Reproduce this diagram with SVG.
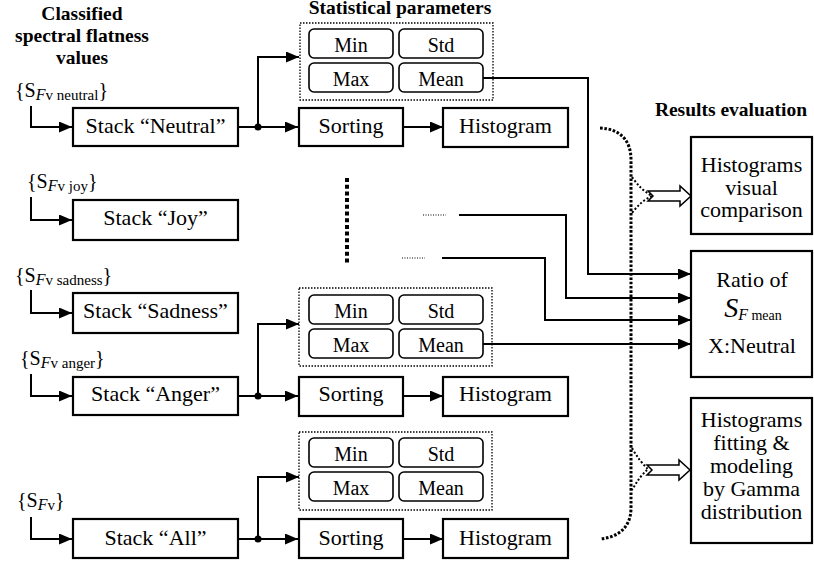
<svg xmlns="http://www.w3.org/2000/svg" width="814" height="564" viewBox="0 0 814 564" font-family="'Liberation Serif', Tinos, 'Times New Roman', Times, serif">
<defs>
<marker id="ah" markerWidth="13" markerHeight="11" refX="13" refY="5.5" orient="auto" markerUnits="userSpaceOnUse"><path d="M0,0 L13,5.5 L0,11 z" fill="#000"/></marker>
<style>
text{font-family:'Liberation Serif',Tinos,'Times New Roman',Times,serif;fill:#000}
.t{font-size:22px;text-anchor:middle}
.s{font-size:20px;text-anchor:middle}
.h{font-size:19.5px;font-weight:bold;text-anchor:middle}
.lbl{font-size:20px}
.sub{font-size:15px}
.subF{font-size:16px;font-style:italic}
.box{fill:#fff;stroke:#000;stroke-width:2.2}
.rb{fill:#fff;stroke:#000;stroke-width:1.6}
.grp{fill:none;stroke:#000;stroke-width:1.3;stroke-dasharray:1.5 1.5}
.ln{fill:none;stroke:#000;stroke-width:2}
.ar{marker-end:url(#ah)}
.dot{fill:#000}
.brace{fill:none;stroke:#000;stroke-width:3;stroke-dasharray:2.6 1.7}
.br2{fill:none;stroke:#000;stroke-width:2;stroke-dasharray:2 2}
.hol{fill:#fff;stroke:#000;stroke-width:1.5}
</style>
</defs>
<rect width="814" height="564" fill="#fff"/>

<g id="titles">
<text class="h" x="82" y="19.5">Classified</text>
<text class="h" x="82" y="41.5">spectral flatness</text>
<text class="h" x="82" y="64">values</text>
<text class="h" x="400" y="14">Statistical parameters</text>
<text class="h" x="731" y="116">Results evaluation</text>
</g>

<g id="labels">
<text class="lbl" x="15" y="97">{S<tspan class="subF" dy="3">F</tspan><tspan class="sub">v neutral</tspan><tspan dy="-3">}</tspan></text>
<text class="lbl" x="27" y="188">{S<tspan class="subF" dy="3">F</tspan><tspan class="sub">v joy</tspan><tspan dy="-3">}</tspan></text>
<text class="lbl" x="15" y="282">{S<tspan class="subF" dy="3">F</tspan><tspan class="sub">v sadness</tspan><tspan dy="-3">}</tspan></text>
<text class="lbl" x="20" y="365">{S<tspan class="subF" dy="3">F</tspan><tspan class="sub">v anger</tspan><tspan dy="-3">}</tspan></text>
<text class="lbl" x="17" y="507">{S<tspan class="subF" dy="3">F</tspan><tspan class="sub">v</tspan><tspan dy="-3">}</tspan></text>
</g>

<g id="connectors">
<path class="ln ar" d="M31,106 V127 H72"/>
<path class="ln ar" d="M238,127 H298"/>
<path class="ln ar" d="M258,127 V57 H299"/>
<path class="ln ar" d="M403,127 H443"/>
<path class="ln ar" d="M31,197 V220 H72"/>
<path class="ln ar" d="M31,290 V313 H72"/>
<path class="ln ar" d="M31,374 V396 H72"/>
<path class="ln ar" d="M238,396 H298"/>
<path class="ln ar" d="M258,396 V324 H299"/>
<path class="ln ar" d="M403,396 H443"/>
<path class="ln ar" d="M31,517 V539 H72"/>
<path class="ln ar" d="M238,539 H298"/>
<path class="ln ar" d="M258,539 V477 H299"/>
<path class="ln ar" d="M403,539 H443"/>
<circle class="dot" cx="258" cy="127" r="3.5"/>
<circle class="dot" cx="258" cy="396" r="3.5"/>
<circle class="dot" cx="258" cy="539" r="3.5"/>
<path class="ln ar" d="M482,78 H588 V274 H691"/>
<path class="ln ar" d="M459,215 H566 V298 H691"/>
<path class="ln ar" d="M442,258 H545 V320 H691"/>
<path class="ln ar" d="M482,344 H691"/>
<line x1="347" y1="178" x2="347" y2="265" stroke="#000" stroke-width="4" stroke-dasharray="4 2.7"/>
<line x1="423" y1="215" x2="446" y2="215" stroke="#000" stroke-width="1" stroke-dasharray="1 1.5"/>
<line x1="402" y1="258" x2="425" y2="258" stroke="#000" stroke-width="1" stroke-dasharray="1 1.5"/>
<path class="brace" d="M600,128 C620,129 631,140 631,160 V508 C631,526 620,537 600,539"/>
<path class="br2" d="M632,177 Q641,190 652,196 Q641,201 632,213"/>
<path class="br2" d="M632,448 Q640,462 648,469 Q640,476 632,490"/>
<polygon class="hol" points="648,191 680,191 680,186 691,196 680,206 680,201 648,201 653,196"/>
<polygon class="hol" points="647,465 679,465 679,460 690,470 679,480 679,475 647,475 652,470"/>
</g>

<g id="stack-neutral"><rect class="box" x="73" y="108" width="165" height="38"/><text class="t" x="155.5" y="133">Stack “Neutral”</text></g>
<g id="stack-joy"><rect class="box" x="73" y="200" width="165" height="40"/><text class="t" x="155.5" y="225">Stack “Joy”</text></g>
<g id="stack-sadness"><rect class="box" x="73" y="293" width="165" height="40"/><text class="t" x="155.5" y="318">Stack “Sadness”</text></g>
<g id="stack-anger"><rect class="box" x="73" y="377" width="165" height="38"/><text class="t" x="155.5" y="401">Stack “Anger”</text></g>
<g id="stack-all"><rect class="box" x="73" y="519" width="165" height="39"/><text class="t" x="155.5" y="545">Stack “All”</text></g>

<g id="sorting-1"><rect class="box" x="299" y="108" width="104" height="38"/><text class="t" x="351" y="133">Sorting</text></g>
<g id="histogram-1"><rect class="box" x="443" y="108" width="125" height="39"/><text class="t" x="505.5" y="133">Histogram</text></g>
<g id="sorting-2"><rect class="box" x="299" y="377" width="104" height="39"/><text class="t" x="351" y="401">Sorting</text></g>
<g id="histogram-2"><rect class="box" x="443" y="377" width="125" height="39"/><text class="t" x="505.5" y="401">Histogram</text></g>
<g id="sorting-3"><rect class="box" x="299" y="519" width="104" height="39"/><text class="t" x="351" y="545">Sorting</text></g>
<g id="histogram-3"><rect class="box" x="443" y="519" width="125" height="39"/><text class="t" x="505.5" y="545">Histogram</text></g>

<g id="stats-1">
<rect class="grp" x="300" y="23" width="193" height="77"/>
<rect class="rb" x="309" y="29" width="84" height="29" rx="5"/><text class="s" x="351" y="52">Min</text>
<rect class="rb" x="399" y="29" width="84" height="29" rx="5"/><text class="s" x="441" y="52">Std</text>
<rect class="rb" x="309" y="63" width="84" height="29" rx="5"/><text class="s" x="351" y="86">Max</text>
<rect class="rb" x="399" y="63" width="84" height="29" rx="5"/><text class="s" x="441" y="86">Mean</text>
</g>
<g id="stats-2">
<rect class="grp" x="299" y="288" width="193" height="78"/>
<rect class="rb" x="309" y="295" width="84" height="29" rx="5"/><text class="s" x="351" y="318">Min</text>
<rect class="rb" x="399" y="295" width="84" height="29" rx="5"/><text class="s" x="441" y="318">Std</text>
<rect class="rb" x="309" y="329" width="84" height="29" rx="5"/><text class="s" x="351" y="352">Max</text>
<rect class="rb" x="399" y="329" width="84" height="29" rx="5"/><text class="s" x="441" y="352">Mean</text>
</g>
<g id="stats-3">
<rect class="grp" x="299" y="432" width="193" height="78"/>
<rect class="rb" x="309" y="438" width="84" height="29" rx="5"/><text class="s" x="351" y="461">Min</text>
<rect class="rb" x="399" y="438" width="84" height="29" rx="5"/><text class="s" x="441" y="461">Std</text>
<rect class="rb" x="309" y="472" width="84" height="29" rx="5"/><text class="s" x="351" y="495">Max</text>
<rect class="rb" x="399" y="472" width="84" height="29" rx="5"/><text class="s" x="441" y="495">Mean</text>
</g>

<g id="visual-comparison">
<rect class="box" x="691" y="137" width="121" height="97"/>
<text class="t" x="751.5" y="172">Histograms</text>
<text class="t" x="751.5" y="195">visual</text>
<text class="t" x="751.5" y="217">comparison</text>
</g>
<g id="ratio">
<rect class="box" x="691" y="251" width="121" height="126"/>
<text class="t" x="752" y="287">Ratio of</text>
<text x="753" y="317" text-anchor="middle"><tspan font-size="28" font-style="italic">S</tspan><tspan font-size="16" font-style="italic" dy="3">F</tspan><tspan font-size="14"> mean</tspan></text>
<text class="t" x="752" y="353">X:Neutral</text>
</g>
<g id="fitting">
<rect class="box" x="691" y="398" width="121" height="145"/>
<text class="t" x="751.5" y="427">Histograms</text>
<text class="t" x="751.5" y="450">fitting &amp;</text>
<text class="t" x="751.5" y="473">modeling</text>
<text class="t" x="751.5" y="496">by Gamma</text>
<text class="t" x="751.5" y="519">distribution</text>
</g>
</svg>
